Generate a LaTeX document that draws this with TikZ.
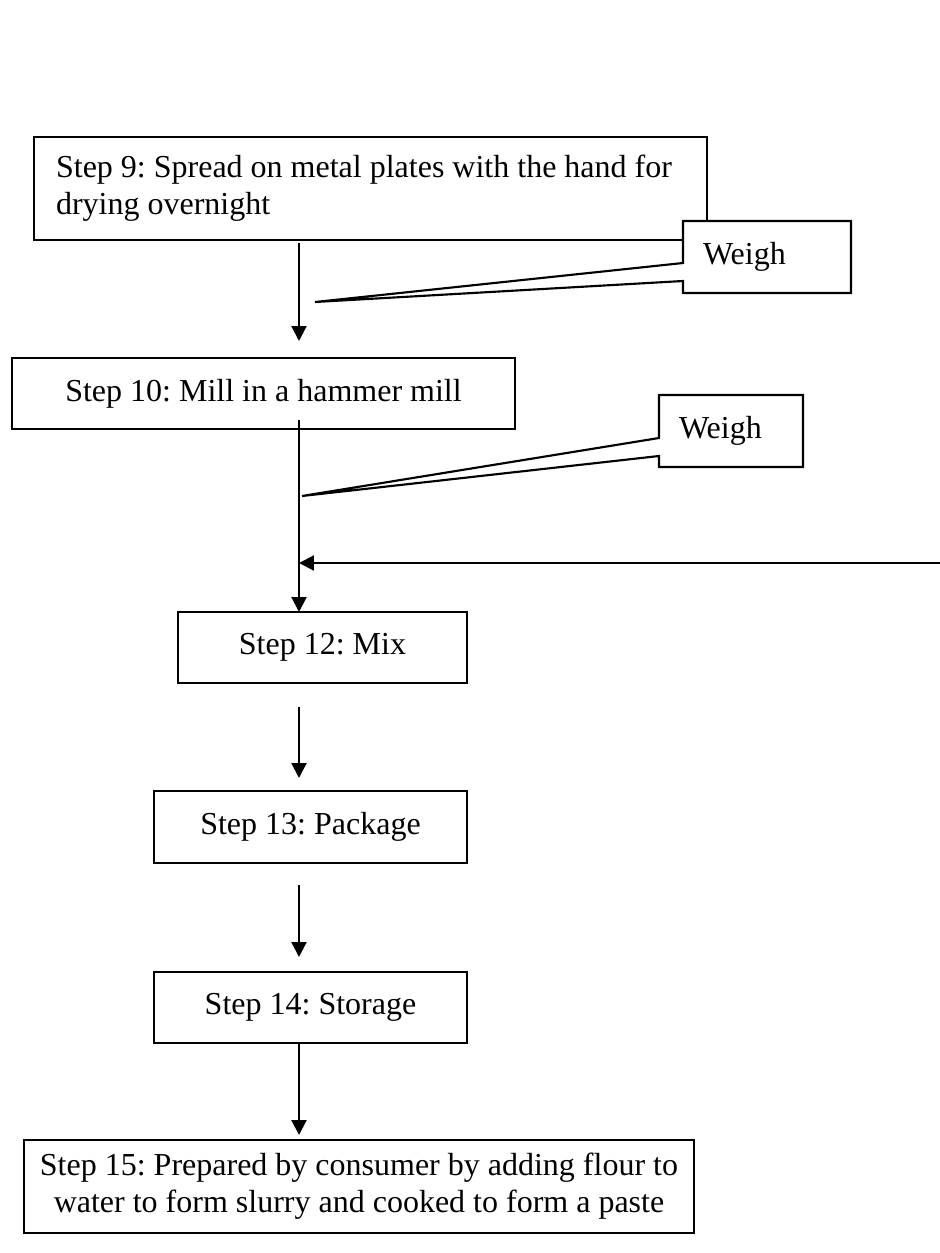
\documentclass[tikz,border=0pt]{standalone}
\usepackage{fontspec}
\setmainfont{Liberation Serif}
\usetikzlibrary{arrows.meta,calc}
\begin{document}
\begin{tikzpicture}[x=0.375pt,y=-0.375pt,
  font=\fontsize{12pt}{13.9pt}\selectfont\frenchspacing,
  line width=0.8pt,
  box/.style={draw, fill=white, rectangle, inner sep=0pt, outer sep=0pt, anchor=north west},
  sz/.style 2 args={minimum width=#1*0.375pt, minimum height=#2*0.375pt},
  tag/.style={fill=white, rectangle, inner ysep=0pt, inner xsep=7.5pt, outer sep=0pt,
    anchor=north west, align=left},
  arr/.style={-{Triangle[width=5.6pt,length=5.6pt]}}]

\useasboundingbox (0,0) rectangle (940,1253);

% main process column
\coordinate (trunk) at (299,0);

\node[box, sz={673}{103}] (s9) at (34,137) {};
\node[anchor=west, align=left, inner sep=0pt] (s9t) at ($(s9.west)+(21,0)$)
  {Step 9: Spread on metal plates with the hand for\\drying overnight};
\node[box, sz={503}{71}] (s10) at (12,358) {Step 10: Mill in a hammer mill};
\node[box, sz={289}{71}] (s12) at (178,612) {Step 12: Mix};
\node[box, sz={313}{72}] (s13) at (154,791) {Step 13: Package};
\node[box, sz={313}{71}] (s14) at (154,972) {Step 14: Storage};
\node[box, sz={670}{93}, align=center] (s15) at (24,1140)
  {Step 15: Prepared by consumer by adding flour to\\water to form slurry and cooked to form a paste};

% weighing callouts
\node[tag, sz={168}{72}, text width=48pt] (w1) at (683,221) {Weigh};
\coordinate (tip1) at (315,302);
\draw (w1.north west) -- (w1.north east) -- (w1.south east) -- (w1.south west)
  -- ($(w1.north west)+(0,60)$) -- (tip1) -- ($(w1.north west)+(0,42)$) -- cycle;

\node[tag, sz={144}{72}, text width=39pt] (w2) at (659,395) {Weigh};
\coordinate (tip2) at (302,496);
\draw (w2.north west) -- (w2.north east) -- (w2.south east) -- (w2.south west)
  -- ($(w2.north west)+(0,61)$) -- (tip2) -- ($(w2.north west)+(0,43)$) -- cycle;

% flow arrows
\draw[arr] ($(trunk |- s9.south)+(0,3)$) -- ($(trunk |- s10.north)+(0,-17)$);
\draw[arr] ($(trunk |- s10.south)+(0,-9)$) -- (trunk |- s12.north);
\draw[arr] ($(trunk |- s12.south)+(0,24)$) -- ($(trunk |- s13.north)+(0,-13)$);
\draw[arr] ($(trunk |- s13.south)+(0,22)$) -- ($(trunk |- s14.north)+(0,-15)$);
\draw[arr] (trunk |- s14.south) -- ($(trunk |- s15.north)+(0,-5)$);

% side feed entering from the right
\coordinate (feed) at (940,563);
\draw[arr] (feed) -- (feed -| trunk);
\end{tikzpicture}
\end{document}
